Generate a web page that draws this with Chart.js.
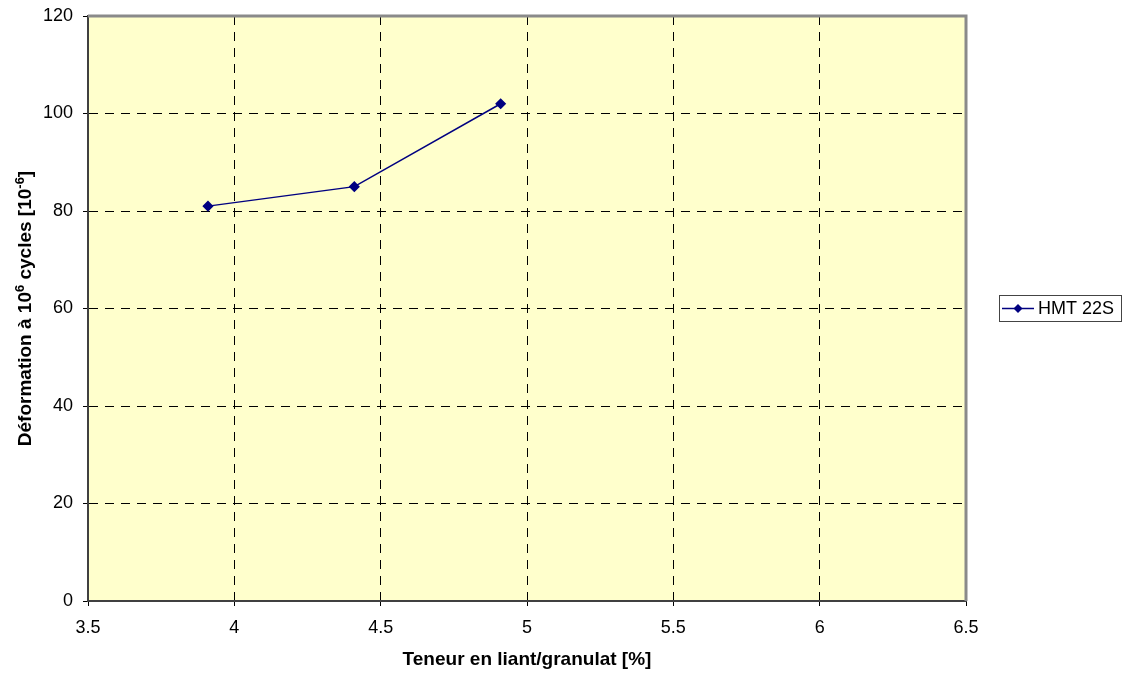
<!DOCTYPE html>
<html>
<head>
<meta charset="utf-8">
<script src="https://cdn.jsdelivr.net/npm/chart.js@4"></script>
<style>
  body { margin: 0; background: #fff; }
  #wrap { width: 1125px; height: 675px; }
</style>
</head>
<body>
<div id="wrap"><canvas id="myChart"></canvas></div>
<script>
// data
var teneur = [3.91, 4.41, 4.91];
var deformation = [81, 85, 102];
var seriesName = 'HMT 22S';
var xTitle = 'Teneur en liant/granulat [%]';
// y title pieces: [text, superscript?]
var yTitleParts = [['Déformation à 10', false], ['6', true], [' cycles [10', false], ['-6', true], [']', false]];

var lineColor = '#000080';
var plotFill = '#FFFFCC';
var fontName = '"Liberation Sans", Arial, sans-serif';

var points = teneur.map(function (x, i) { return { x: x, y: deformation[i] }; });

// yellow plot area + gray frame
var plotArea = {
    id: 'plotArea',
    beforeDraw: function (chart) {
        var a = chart.chartArea, c = chart.ctx;
        c.save();
        c.fillStyle = plotFill;
        c.fillRect(a.left, a.top, a.right - a.left, a.bottom - a.top);
        c.restore();
    },
    afterDatasetsDraw: function (chart) {
        var a = chart.chartArea, c = chart.ctx;
        c.save();
        c.strokeStyle = '#8a8a8a';
        c.lineWidth = 3;
        c.beginPath();
        c.moveTo(a.left, a.top);
        c.lineTo(a.right, a.top);
        c.lineTo(a.right, a.bottom);
        c.stroke();
        c.restore();
    }
};

// rotated y title with real superscripts
var yTitleDraw = {
    id: 'yTitleDraw',
    afterDraw: function (chart) {
        var c = chart.ctx, a = chart.chartArea;
        var big = 'bold 19px ' + fontName, small = 'bold 13px ' + fontName;
        c.save();
        var total = 0;
        yTitleParts.forEach(function (p) {
            c.font = p[1] ? small : big;
            total += c.measureText(p[0]).width;
        });
        c.translate(31, (a.top + a.bottom) / 2);
        c.rotate(-Math.PI / 2);
        c.fillStyle = '#000';
        c.textBaseline = 'alphabetic';
        var x = -total / 2;
        yTitleParts.forEach(function (p) {
            c.font = p[1] ? small : big;
            c.fillText(p[0], x, p[1] ? -7 : 0);
            x += c.measureText(p[0]).width;
        });
        c.restore();
    }
};

// legend box like the spreadsheet one
var boxLegend = {
    id: 'boxLegend',
    afterDraw: function (chart) {
        var c = chart.ctx;
        var x = 999, y = 295, w = 122, h = 26;
        c.save();
        c.fillStyle = '#fff';
        c.fillRect(x, y, w, h);
        c.strokeStyle = '#444';
        c.lineWidth = 1;
        c.strokeRect(x + 0.5, y + 0.5, w, h);
        var my = y + h / 2 + 0.5;
        c.strokeStyle = lineColor;
        c.lineWidth = 1.5;
        c.beginPath();
        c.moveTo(x + 3, my);
        c.lineTo(x + 35, my);
        c.stroke();
        c.fillStyle = lineColor;
        c.beginPath();
        c.moveTo(x + 19, my - 4.5);
        c.lineTo(x + 23.5, my);
        c.lineTo(x + 19, my + 4.5);
        c.lineTo(x + 14.5, my);
        c.closePath();
        c.fill();
        c.fillStyle = '#000';
        c.font = '18px ' + fontName;
        c.textBaseline = 'middle';
        c.fillText(seriesName, x + 39, my + 1);
        c.restore();
    }
};

Chart.defaults.font.family = fontName;
Chart.defaults.color = '#000';

var ctx = document.getElementById('myChart').getContext('2d');
var chart = new Chart(ctx, {
    type: 'scatter',
    data: {
        datasets: [{
            label: seriesName,
            data: points,
            showLine: true,
            borderColor: lineColor,
            backgroundColor: lineColor,
            borderWidth: 1.5,
            pointStyle: 'rectRot',
            pointRadius: 4.5,
            pointHoverRadius: 4.5,
            tension: 0
        }]
    },
    options: {
        responsive: true,
        maintainAspectRatio: false,
        animation: false,
        layout: { padding: { top: 16, right: 159, left: 0, bottom: 0 } },
        plugins: {
            legend: { display: false },
            tooltip: { enabled: false }
        },
        scales: {
            x: {
                type: 'linear',
                min: 3.5,
                max: 6.5,
                ticks: {
                    stepSize: 0.5,
                    font: { size: 18 },
                    padding: 11,
                    callback: function (v) { return String(Math.round(v * 10) / 10); }
                },
                grid: {
                    color: '#000',
                    tickBorderDash: [],
                    tickLength: 5,
                    tickColor: '#000'
                },
                border: { color: '#404040', width: 2, dash: [9, 7] },
                title: {
                    display: true,
                    text: xTitle,
                    font: { size: 19, weight: 'bold' },
                    padding: { top: 8 }
                },
                afterFit: function (s) { s.height = 74; s.paddingLeft = 0; s.paddingRight = 0; }
            },
            y: {
                min: 0,
                max: 120,
                ticks: { stepSize: 20, font: { size: 18 }, padding: 10 },
                grid: {
                    color: '#000',
                    tickBorderDash: [],
                    tickLength: 5,
                    tickColor: '#000'
                },
                border: { color: '#404040', width: 2, dash: [9, 7] },
                title: { display: false },
                afterFit: function (s) { s.width = 88; s.paddingTop = 0; s.paddingBottom = 0; }
            }
        }
    },
    plugins: [plotArea, yTitleDraw, boxLegend]
});
</script>
</body>
</html>
